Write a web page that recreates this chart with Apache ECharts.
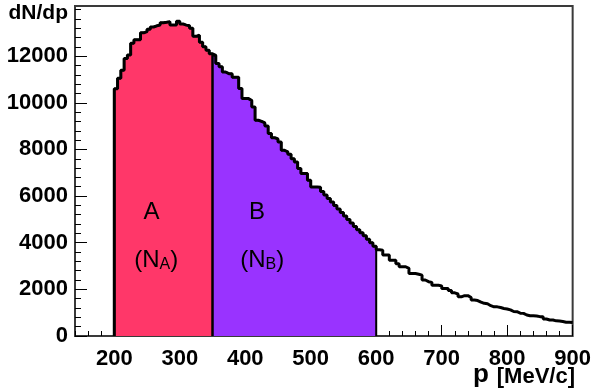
<!DOCTYPE html>
<html>
<head>
<meta charset="utf-8">
<script src="https://cdn.jsdelivr.net/npm/echarts@6/dist/echarts.min.js"></script>
<style>
  html, body { margin: 0; padding: 0; background: #ffffff; }
  #chart { width: 594px; height: 390px; }
</style>
</head>
<body>
<div id="chart"></div>
<script>
// Momentum spectrum dN/dp, 5 MeV/c bins starting at 200 MeV/c
const binWidth = 5;

// Region A: 200 - 350 MeV/c
const regionAStart = 200;
const countsA = [10600, 11050, 11400, 11900, 12050, 12550, 12700, 12700, 13000, 13050,
                 13150, 13250, 13300, 13330, 13430, 13450, 13480, 13330, 13330, 13500,
                 13380, 13330, 13300, 13200, 12850, 12900, 12600, 12400, 12250, 12100];

// Region B: 350 - 600 MeV/c
const regionBStart = 350;
const countsB = [12030, 11680, 11550, 11320, 11250, 11250, 11100, 11100, 10610, 10180,
                 10180, 10100, 9820, 9250, 9200, 9135, 9000, 8680, 8500, 8450,
                 8320, 7960, 7900, 7790, 7600, 7460, 7180, 6970, 6970, 6680,
                 6390, 6390, 6380, 6200, 6050, 5900, 5750, 5600, 5450, 5300,
                 5150, 5000, 4850, 4700, 4560, 4430, 4300, 4150, 4000, 3850];

// Tail: 600 - 900 MeV/c
const tailStart = 600;
const countsTail = [3700, 3680, 3470, 3470, 3250, 3250, 3100, 2970, 2970, 2900,
                    2680, 2680, 2650, 2610, 2400, 2330, 2300, 2180, 2180, 2150,
                    2040, 2040, 1950, 1850, 1800, 1680, 1730, 1730, 1650, 1540,
                    1520, 1450, 1400, 1380, 1300, 1250, 1250, 1220, 1180, 1160,
                    1120, 1050, 1040, 980, 970, 900, 870, 870, 860, 830,
                    830, 730, 685, 685, 650, 640, 620, 590, 590, 575];

// Axis ranges and ticks
const xRange = [140, 900];
const yRange = [0, 14150];
const xMajorTicks = [200, 300, 400, 500, 600, 700, 800, 900];
const xMinorTicks = [140, 160, 180, 200, 220, 240, 260, 280, 300, 320, 340, 360, 380, 400,
                     420, 440, 460, 480, 500, 520, 540, 560, 580, 600, 620, 640, 660, 680,
                     700, 720, 740, 760, 780, 800, 820, 840, 860, 880, 900];
const yMajorTicks = [0, 2000, 4000, 6000, 8000, 10000, 12000];
const yMinorTicks = [0, 400, 800, 1200, 1600, 2000, 2400, 2800, 3200, 3600, 4000, 4400, 4800,
                     5200, 5600, 6000, 6400, 6800, 7200, 7600, 8000, 8400, 8800, 9200, 9600,
                     10000, 10400, 10800, 11200, 11600, 12000, 12400, 12800, 13200, 13600, 14000];

// Region annotations (data coordinates)
const regionLabels = [
  { name: 'A', sub: '', x: 257, y: 5300 },
  { name: '(N', sub: 'A', x: 264, y: 3250 },
  { name: 'B', sub: '', x: 418, y: 5300 },
  { name: '(N', sub: 'B', x: 426, y: 3250 }
];

const FONT = 'Liberation Sans, Arial, Helvetica, sans-serif';

// Histogram outline points: flat top across each bin, vertical edges between bins
function histPoints(start, counts, riseFromZero, dropToZero) {
  const pts = [];
  if (riseFromZero) pts.push([start, 0]);
  counts.forEach((c, i) => {
    const lo = start + i * binWidth;
    pts.push([lo, c], [lo + binWidth, c]);
  });
  if (dropToZero) pts.push([start + counts.length * binWidth, 0]);
  return pts;
}

const allCounts = countsA.concat(countsB, countsTail);

const chart = echarts.init(document.getElementById('chart'), null, { renderer: 'canvas' });

const plainNumber = v => String(v);

const tickAxisX = (values, len, showLabel) => ({
  type: 'value', min: xRange[0], max: xRange[1], position: 'bottom',
  axisLine: { show: false },
  splitLine: { show: false },
  axisTick: { show: true, inside: true, length: len, customValues: values,
              lineStyle: { color: '#000', width: 1 } },
  axisLabel: showLabel ? {
    show: true, customValues: xMajorTicks, margin: 12, formatter: plainNumber,
    color: '#000', fontFamily: FONT, fontWeight: 'bold', fontSize: 22
  } : { show: false }
});

const tickAxisY = (values, len, showLabel) => ({
  type: 'value', min: yRange[0], max: yRange[1], position: 'left',
  axisLine: { show: false },
  splitLine: { show: false },
  axisTick: { show: true, inside: true, length: len, customValues: values,
              lineStyle: { color: '#000', width: 1 } },
  axisLabel: showLabel ? {
    show: true, customValues: yMajorTicks, margin: 7, formatter: plainNumber,
    color: '#000', fontFamily: FONT, fontWeight: 'bold', fontSize: 22
  } : { show: false }
});

chart.setOption({
  animation: false,
  backgroundColor: '#ffffff',
  grid: {
    left: 75, right: 19, top: 6, bottom: 54,
    show: true, borderColor: '#3a3a3a', borderWidth: 2, backgroundColor: 'transparent'
  },
  xAxis: [tickAxisX(xMajorTicks, 11, true), tickAxisX(xMinorTicks, 5, false)],
  yAxis: [tickAxisY(yMajorTicks, 12, true), tickAxisY(yMinorTicks, 6, false)],
  series: [
    {
      name: 'A', type: 'line', symbol: 'none', z: 2,
      data: histPoints(regionAStart, countsA, true, true),
      lineStyle: { color: '#000', width: 2 },
      areaStyle: { color: '#ff3769', opacity: 1 }
    },
    {
      name: 'B', type: 'line', symbol: 'none', z: 2,
      data: histPoints(regionBStart, countsB, true, true),
      lineStyle: { color: '#000', width: 2 },
      areaStyle: { color: '#9933ff', opacity: 1 }
    },
    {
      name: 'dN/dp', type: 'line', symbol: 'none', z: 3,
      data: histPoints(regionAStart, allCounts, true, false),
      lineStyle: { color: '#000', width: 3 }
    }
  ]
});

// Text annotations placed through the axis scales
const texts = regionLabels.map(l => {
  const [px, py] = chart.convertToPixel({ xAxisIndex: 0, yAxisIndex: 0 }, [l.x, l.y]);
  return {
    type: 'text', x: px, y: py, z: 10,
    style: {
      text: l.sub ? '{m|' + l.name + '}{s|' + l.sub + '}{m|)}' : '{m|' + l.name + '}',
      align: 'center', verticalAlign: 'middle',
      rich: {
        m: { fontFamily: FONT, fontSize: 24, fill: '#000' },
        s: { fontFamily: FONT, fontSize: 16, fill: '#000', verticalAlign: 'bottom', padding: [8, 0, 0, 0] }
      }
    }
  };
});

chart.setOption({
  graphic: texts.concat([
    {
      type: 'text', right: 526, top: 3, z: 10,
      style: { text: 'dN/dp', fontFamily: FONT, fontWeight: 'bold', fontSize: 21, fill: '#000', align: 'right' }
    },
    {
      type: 'text', right: 19, top: 362, z: 10,
      style: {
        text: '{p|p}{u|[MeV/c]}',
        rich: {
          p: { fontFamily: FONT, fontWeight: 'bold', fontSize: 26, fill: '#000', verticalAlign: 'bottom', padding: [0, 8, 0, 0] },
          u: { fontFamily: FONT, fontWeight: 'bold', fontSize: 22, fill: '#000', verticalAlign: 'bottom' }
        }
      }
    }
  ])
});
</script>
</body>
</html>
